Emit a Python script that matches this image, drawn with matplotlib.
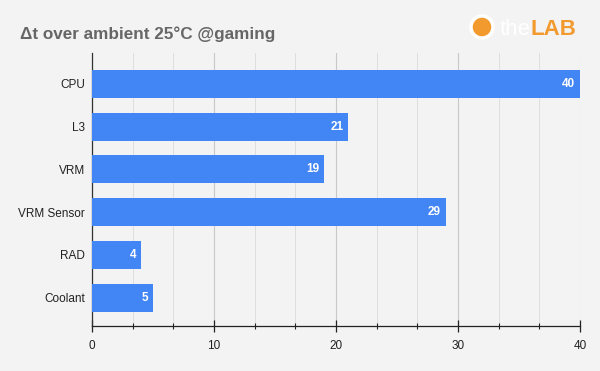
import matplotlib.pyplot as plt
from matplotlib.patches import Circle
from matplotlib.ticker import MultipleLocator

# Datos del gráfico
categorias = ["CPU", "L3", "VRM", "VRM Sensor", "RAD", "Coolant"]
valores = [40, 21, 19, 29, 4, 5]
xticks = [0, 10, 20, 30, 40]

BG = "#f3f3f3"
AZUL = "#4285f4"
NARANJA = "#f29a2e"

plt.rcParams["font.family"] = ["Liberation Sans", "DejaVu Sans"]

fig = plt.figure(figsize=(6, 3.71), dpi=100, facecolor=BG)
ax = fig.add_axes([92 / 600, 1 - 326 / 371, 488 / 600, (326 - 53) / 371])
ax.set_facecolor(BG)

pos = list(range(len(categorias)))
ax.barh(pos, valores, height=0.65, color=AZUL, zorder=3)
for p, v in zip(pos, valores):
    ax.text(v - 0.4, p, str(v), ha="right", va="center", color="white",
            fontsize=8.5, fontweight="bold", zorder=4)

ax.set_xlim(0, 40)
ax.set_ylim(len(categorias) - 0.34, -0.72)
ax.set_yticks(pos)
ax.set_yticklabels(categorias, fontsize=8.5, color="#222222")
ax.set_xticks(xticks)
ax.set_xticklabels([str(t) for t in xticks], fontsize=8.5, color="#222222")
ax.xaxis.set_minor_locator(MultipleLocator(10 / 3))

ax.grid(axis="x", which="major", color="#c8c8c8", linewidth=0.8, zorder=0)
ax.grid(axis="x", which="minor", color="#dedede", linewidth=0.7, zorder=0)

for s in ["top", "right"]:
    ax.spines[s].set_visible(False)
ax.spines["left"].set_color("#333333")
ax.spines["bottom"].set_color("#222222")
ax.spines["left"].set_linewidth(0.9)
ax.spines["bottom"].set_linewidth(0.9)
ax.tick_params(axis="y", length=0, pad=5)
ax.tick_params(axis="x", which="major", direction="inout", length=8, width=0.9,
               color="#222222", pad=6)
ax.tick_params(axis="x", which="minor", direction="inout", length=4, width=0.8,
               color="#222222")

# Título
fig.text(20 / 600, 1 - 39 / 371, "Δt over ambient 25°C @gaming", fontsize=12.3,
         fontweight="bold", color="#666666", ha="left", va="baseline")

# Logo aproximado (círculo en pulgadas para que sea redondo)
circ = Circle((482 / 100, (371 - 27) / 100), 0.11, transform=fig.dpi_scale_trans,
              facecolor=NARANJA, edgecolor="white", linewidth=2.5)
fig.patches.append(circ)
fig.text(500 / 600, 1 - 35 / 371, "the", fontsize=16, color="white",
         ha="left", va="baseline")
fig.text(531 / 600, 1 - 35 / 371, "LAB", fontsize=16, fontweight="bold",
         color=NARANJA, ha="left", va="baseline")

fig.savefig("out.png", dpi=100, facecolor=BG)
